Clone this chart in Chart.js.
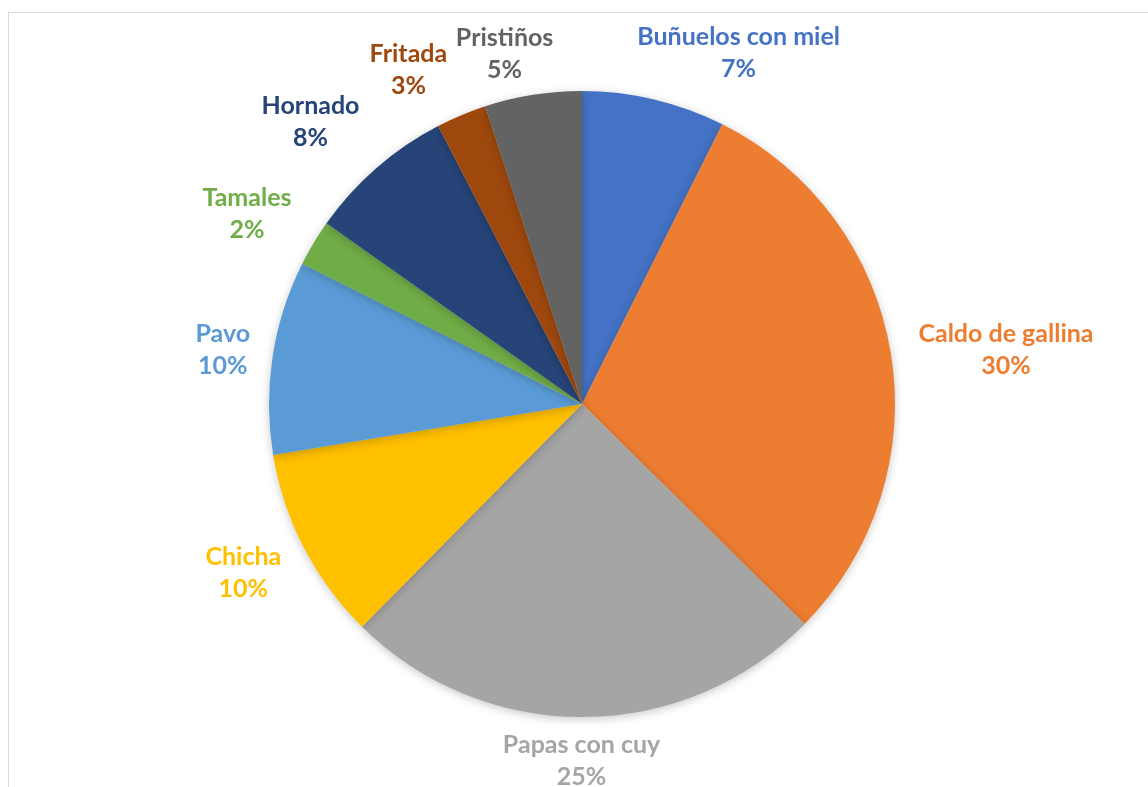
<!DOCTYPE html>
<html>
<head>
<meta charset="utf-8">
<script src="https://cdn.jsdelivr.net/npm/chart.js@4.4.1/dist/chart.umd.min.js"></script>
<style>
  html, body { margin: 0; padding: 0; background: #fff; overflow: hidden; }
  #frame { position: absolute; left: 8px; top: 12px; width: 1200px; height: 900px; border: 1px solid #d9d9d9; }
  #wrap { position: absolute; left: 0; top: 0; width: 1148px; height: 787px; }
</style>
</head>
<body>
<div id="frame"></div>
<div id="wrap"><canvas id="pieChart"></canvas></div>
<script>
// Platos preferidos (share of answers)
const categories = ['Buñuelos con miel', 'Caldo de gallina', 'Papas con cuy', 'Chicha', 'Pavo', 'Tamales', 'Hornado', 'Fritada', 'Pristiños'];
const shares = [7.4, 30, 25, 10, 10, 2.4, 7.6, 2.6, 5];
const colors = ['#4472C4', '#ED7D31', '#A5A5A5', '#FFC000', '#5B9BD5', '#70AD47', '#264478', '#9E480E', '#636363'];

document.addEventListener('DOMContentLoaded', function() {
  // outside labels, two lines: name and rounded percent
  const outsideLabels = {
    id: 'outsideLabels',
    afterDatasetsDraw(chart, args, opts) {
      const ctx = chart.ctx;
      const meta = chart.getDatasetMeta(0);
      const total = shares.reduce((a, b) => a + b, 0);
      const gap = 18, lineH = 32;
      ctx.save();
      ctx.font = 'bold 25px Lato';
      ctx.textAlign = 'center';
      ctx.textBaseline = 'middle';
      meta.data.forEach((arc, i) => {
        const p = arc.getProps(['x', 'y', 'startAngle', 'endAngle', 'outerRadius'], true);
        const a = (p.startAngle + p.endAngle) / 2;
        const pct = Math.round(shares[i] / total * 100) + '%';
        const w = Math.max(ctx.measureText(categories[i]).width, ctx.measureText(pct).width);
        const h = lineH * 2;
        const px = p.x + (p.outerRadius + gap) * Math.cos(a);
        const py = p.y + (p.outerRadius + gap) * Math.sin(a);
        // best-fit style shift so crowded labels at the top spread out
        const nudge = opts.nudge[i] || [0, 0];
        const cx = px + w / 2 * Math.cos(a) + nudge[0];
        const cy = py + h / 2 * Math.sin(a) + nudge[1];
        ctx.fillStyle = colors[i];
        ctx.fillText(categories[i], cx, cy - lineH / 2);
        ctx.fillText(pct, cx, cy + lineH / 2);
      });
      ctx.restore();
    }
  };

  const pieShadow = {
    id: 'pieShadow',
    beforeDatasetsDraw(chart) {
      const ctx = chart.ctx;
      ctx.save();
      ctx.shadowColor = 'rgba(0,0,0,0.22)';
      ctx.shadowBlur = 10;
      ctx.shadowOffsetX = 0;
      ctx.shadowOffsetY = 2;
    },
    afterDatasetsDraw(chart) {
      chart.ctx.restore();
    }
  };

  const pieCtx = document.getElementById('pieChart').getContext('2d');
  const pieChart = new Chart(pieCtx, {
    type: 'pie',
    data: {
      labels: categories,
      datasets: [{
        data: shares,
        backgroundColor: colors,
        borderWidth: 0
      }]
    },
    options: {
      responsive: true,
      maintainAspectRatio: false,
      animation: false,
      layout: {
        padding: { top: 91, bottom: 70, left: 16, right: 0 }
      },
      plugins: {
        legend: { display: false },
        tooltip: { enabled: false },
        outsideLabels: {
          nudge: [[57, 2], [11, 5], [-3, -6], [-11, 2], [-5, 0], [-13, -3], [-22, -8], [-31, 1], [-18, 8]]
        }
      }
    },
    plugins: [pieShadow, outsideLabels]
  });
});
</script>
</body>
</html>
